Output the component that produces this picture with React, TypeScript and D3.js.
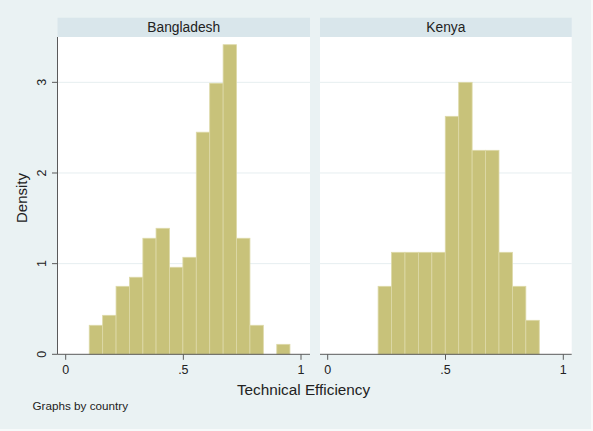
import React, { useEffect, useRef } from "react";
import * as d3 from "d3";

// Histogram bin edges (Technical Efficiency) and densities per country
const bdEdges = [0.1, 0.157, 0.214, 0.271, 0.328, 0.384, 0.441, 0.498, 0.555, 0.612, 0.669, 0.726, 0.783, 0.84, 0.897, 0.953];
const bdDensity = [0.32, 0.43, 0.75, 0.85, 1.28, 1.39, 0.96, 1.07, 2.45, 2.99, 3.415, 1.28, 0.32, 0, 0.11];

const keEdges = [0.214, 0.271, 0.328, 0.385, 0.442, 0.499, 0.556, 0.613, 0.67, 0.727, 0.784, 0.841, 0.898];
const keDensity = [0.75, 1.125, 1.125, 1.125, 1.125, 2.625, 3.0, 2.25, 2.25, 1.125, 0.75, 0.375];

const countries = ["Bangladesh", "Kenya"];
const xTicks = [0, 0.5, 1];
const xTickLabels = ["0", ".5", "1"];
const yTicks = [0, 1, 2, 3];

const W = 593;
const H = 431;

export default function App() {
  const svgRef = useRef<SVGSVGElement>(null);

  useEffect(() => {
    if (!svgRef.current) return;
    const svg = d3.select(svgRef.current);
    svg.selectAll("*").remove();

    const font = "'Liberation Sans', Arial, sans-serif";
    const bg = "#EAF2F3";
    const stripFill = "#D9E6EB";
    const barFill = "#C8C27A";
    const barStroke = "#DDD9A8";
    const axisColor = "#5a5a5a";
    const textColor = "#222";

    svg.append("rect").attr("width", W).attr("height", H).attr("fill", "#f7fafa");
    svg.append("rect").attr("width", 591).attr("height", 429).attr("fill", bg);

    const plotTop = 37;
    const plotBottom = 354.3;
    const y = d3.scaleLinear().domain([0, 3.5]).range([plotBottom, plotTop]);

    const panels = [
      { name: countries[0], left: 57.5, right: 310, range: [65.7, 301], edges: bdEdges, dens: bdDensity },
      { name: countries[1], left: 320, right: 571.7, range: [327.7, 563.3], edges: keEdges, dens: keDensity },
    ];

    panels.forEach((p, pi) => {
      const x = d3.scaleLinear().domain([0, 1]).range(p.range);
      const g = svg.append("g");

      // strip
      g.append("rect")
        .attr("x", p.left)
        .attr("y", 17.7)
        .attr("width", p.right - p.left)
        .attr("height", plotTop - 17.7)
        .attr("fill", stripFill);
      g.append("text")
        .attr("x", (p.left + p.right) / 2)
        .attr("y", 32)
        .attr("text-anchor", "middle")
        .attr("font-family", font)
        .attr("font-size", 13.8)
        .attr("fill", textColor)
        .text(p.name);

      // plot region
      g.append("rect")
        .attr("x", p.left)
        .attr("y", plotTop)
        .attr("width", p.right - p.left)
        .attr("height", plotBottom - plotTop)
        .attr("fill", "#fff");

      // gridlines
      g.selectAll(".grid")
        .data(yTicks.filter((t) => t > 0))
        .enter()
        .append("line")
        .attr("x1", p.left)
        .attr("x2", p.right)
        .attr("y1", (d) => y(d))
        .attr("y2", (d) => y(d))
        .attr("stroke", "#E6EEF0")
        .attr("stroke-width", 1);

      // bars
      g.selectAll(".bar")
        .data(p.dens.map((d, i) => ({ x0: p.edges[i], x1: p.edges[i + 1], v: d })).filter((b) => b.v > 0))
        .enter()
        .append("rect")
        .attr("x", (d) => x(d.x0))
        .attr("width", (d) => x(d.x1) - x(d.x0))
        .attr("y", (d) => y(d.v))
        .attr("height", (d) => y(0) - y(d.v))
        .attr("fill", barFill)
        .attr("stroke", barStroke)
        .attr("stroke-width", 0.8);

      // x axis
      g.append("line")
        .attr("x1", p.left)
        .attr("x2", p.right)
        .attr("y1", plotBottom)
        .attr("y2", plotBottom)
        .attr("stroke", axisColor)
        .attr("stroke-width", 1);
      xTicks.forEach((t, i) => {
        g.append("line")
          .attr("x1", x(t))
          .attr("x2", x(t))
          .attr("y1", plotBottom)
          .attr("y2", plotBottom + 5.5)
          .attr("stroke", axisColor);
        g.append("text")
          .attr("x", x(t))
          .attr("y", 374)
          .attr("text-anchor", "middle")
          .attr("font-family", font)
          .attr("font-size", 12.5)
          .attr("fill", textColor)
          .text(xTickLabels[i]);
      });

      // y axis only on the first panel
      if (pi === 0) {
        g.append("line")
          .attr("x1", p.left)
          .attr("x2", p.left)
          .attr("y1", plotTop)
          .attr("y2", plotBottom)
          .attr("stroke", axisColor);
        yTicks.forEach((t) => {
          g.append("line")
            .attr("x1", p.left - 5.5)
            .attr("x2", p.left)
            .attr("y1", y(t))
            .attr("y2", y(t))
            .attr("stroke", axisColor);
          g.append("text")
            .attr("transform", `translate(46,${y(t)}) rotate(-90)`)
            .attr("text-anchor", "middle")
            .attr("font-family", font)
            .attr("font-size", 12.5)
            .attr("fill", textColor)
            .text(String(t));
        });
      }
    });

    // titles
    svg.append("text")
      .attr("transform", `translate(26.5,198) rotate(-90)`)
      .attr("text-anchor", "middle")
      .attr("font-family", font)
      .attr("font-size", 15)
      .attr("fill", textColor)
      .text("Density");

    svg.append("text")
      .attr("x", 303.5)
      .attr("y", 394.5)
      .attr("text-anchor", "middle")
      .attr("font-family", font)
      .attr("font-size", 15.3)
      .attr("fill", textColor)
      .text("Technical Efficiency");

    svg.append("text")
      .attr("x", 32.5)
      .attr("y", 409.5)
      .attr("font-family", font)
      .attr("font-size", 11.7)
      .attr("fill", textColor)
      .text("Graphs by country");
  }, []);

  return (
    <div style={{ position: "absolute", left: 0, top: 0 }}>
      <svg ref={svgRef} width={W} height={H} style={{ display: "block" }} />
    </div>
  );
}
